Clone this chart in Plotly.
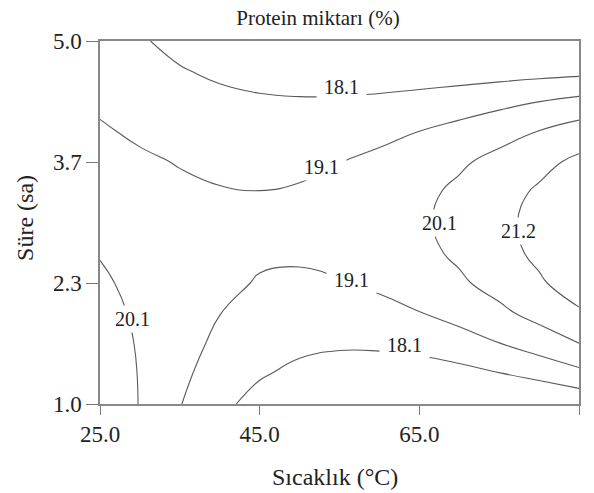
import plotly.graph_objects as go

# Temperature (°C) and duration (h) grid of the response surface
temperature = [25, 30, 35, 40, 45, 50, 55, 60, 65, 70, 75, 80, 85]
duration = [1.0, 4/3, 5/3, 2.0, 7/3, 8/3, 3.0, 10/3, 11/3, 4.0, 13/3, 14/3, 5.0]

# Protein content (%) — one row per duration, one column per temperature
protein = [
    [21.09, 20.05, 19.14, 18.36, 17.73, 17.25, 16.91, 16.71, 16.64, 16.68, 16.82, 17.03, 17.31],
    [20.88, 20.04, 19.30, 18.68, 18.20, 17.85, 17.64, 17.57, 17.62, 17.79, 18.06, 18.41, 18.84],
    [20.67, 20.00, 19.41, 18.93, 18.58, 18.34, 18.24, 18.28, 18.43, 18.70, 19.08, 19.55, 20.09],
    [20.46, 19.93, 19.47, 19.11, 18.86, 18.73, 18.72, 18.84, 19.07, 19.42, 19.88, 20.43, 21.06],
    [20.25, 19.84, 19.49, 19.23, 19.06, 19.01, 19.07, 19.25, 19.54, 19.95, 20.46, 21.06, 21.75],
    [20.05, 19.73, 19.47, 19.28, 19.18, 19.18, 19.29, 19.51, 19.84, 20.27, 20.81, 21.43, 22.14],
    [19.84, 19.59, 19.39, 19.25, 19.19, 19.23, 19.37, 19.61, 19.95, 20.39, 20.92, 21.53, 22.22],
    [19.63, 19.42, 19.25, 19.14, 19.11, 19.16, 19.31, 19.54, 19.87, 20.29, 20.78, 21.35, 21.99],
    [19.41, 19.22, 19.06, 18.96, 18.92, 18.97, 19.09, 19.30, 19.59, 19.96, 20.39, 20.89, 21.44],
    [19.19, 18.98, 18.81, 18.69, 18.63, 18.64, 18.73, 18.88, 19.11, 19.40, 19.75, 20.13, 20.56],
    [18.97, 18.72, 18.51, 18.34, 18.23, 18.19, 18.21, 18.30, 18.44, 18.62, 18.84, 19.09, 19.36],
    [18.77, 18.45, 18.17, 17.93, 17.75, 17.63, 17.57, 17.55, 17.58, 17.63, 17.70, 17.77, 17.84],
    [18.62, 18.20, 17.82, 17.49, 17.21, 16.99, 16.81, 16.67, 16.55, 16.44, 16.33, 16.20, 16.03],
]

levels = [18.1, 19.1, 20.1, 21.2]

x_ticks = [25, 45, 65, 85]
x_labels = ["25.0", "45.0", "65.0", "85.0"]
y_ticks = [1.0, 7/3, 11/3, 5.0]
y_labels = ["1.0", "2.3", "3.7", "5.0"]

# Where each contour label sits on its line: (level, temperature, duration)
label_spots = [
    (18.1, 55.25, 4.49),
    (19.1, 52.75, 3.61),
    (20.1, 67.5, 3.00),
    (21.2, 77.4, 2.91),
    (19.1, 56.5, 2.37),
    (18.1, 63.1, 1.65),
    (20.1, 29.1, 1.94),
]

serif = "Liberation Serif"
ink = "#222222"
line_grey = "#5a5a5a"

fig = go.Figure()
for lv in levels:
    fig.add_trace(go.Contour(
        x=temperature, y=duration, z=protein, showscale=False,
        colorscale=[[0, line_grey], [1, line_grey]],
        contours=dict(coloring="lines", start=lv, end=lv, size=1, showlabels=False),
        line=dict(width=1.1, smoothing=1.3),
        hoverinfo="skip",
    ))

for lv, t, s in label_spots:
    fig.add_annotation(
        x=t, y=s, xref="x", yref="y", text="\u00a0" + f"{lv:.1f}" + "\u00a0",
        showarrow=False, xanchor="center", yanchor="middle",
        bgcolor="white", borderpad=2,
        font=dict(family=serif, size=20, color=ink),
    )

# Axis titles
fig.add_annotation(text="Sıcaklık (°C)", xref="paper", yref="paper", x=0.4906, y=-0.200,
                   xanchor="center", yanchor="middle", showarrow=False,
                   font=dict(family=serif, size=24, color=ink))
fig.add_annotation(text="Süre (sa)", xref="paper", yref="paper", x=-0.157, y=0.512,
                   xanchor="center", yanchor="middle", textangle=-90, showarrow=False,
                   font=dict(family=serif, size=24, color=ink))

fig.update_layout(
    width=594, height=493, margin=dict(l=100, r=15, t=41, b=89),
    plot_bgcolor="white", paper_bgcolor="white",
    font=dict(family=serif, color=ink),
    title=dict(text="Protein miktarı (%)", x=318/594, xanchor="center",
               y=1 - 18/493, yanchor="middle", font=dict(size=21)),
    showlegend=False,
)
axis_style = dict(ticks="outside", tickcolor="#777777", showline=True, linecolor="#888888",
                  linewidth=1.5, mirror=True, showgrid=False, zeroline=False,
                  tickfont=dict(size=23, color=ink))
fig.update_xaxes(range=[25, 85], tickvals=x_ticks, ticktext=x_labels, ticklen=9, **axis_style)
fig.update_yaxes(range=[1, 5], tickvals=y_ticks, ticktext=y_labels, ticklen=12, **axis_style)

fig.write_html("out.html")
